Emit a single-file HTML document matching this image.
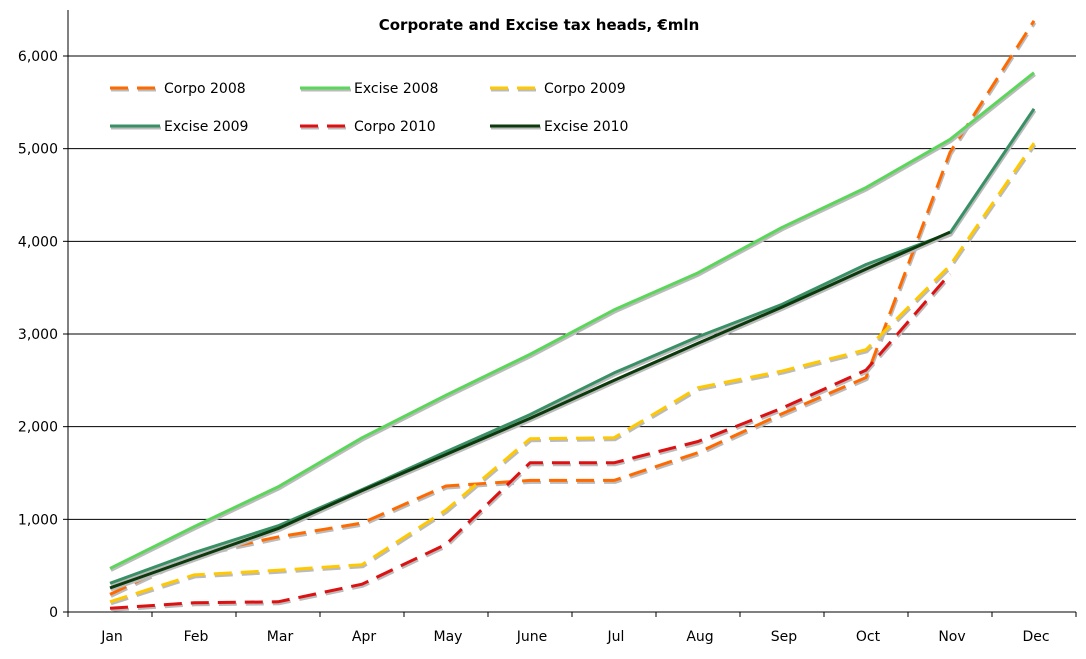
<!DOCTYPE html>
<html><head><meta charset="utf-8"><style>
body{margin:0;background:#fff;}
svg text{font-family:"DejaVu Sans","Liberation Sans",sans-serif;}
</style></head><body>
<svg id="chart" width="1086" height="654" xmlns="http://www.w3.org/2000/svg">
<text x="539" y="30" text-anchor="middle" font-size="15" font-weight="bold">Corporate and Excise tax heads, €mln</text>
<g id="grid"></g><g id="series"></g><g id="legend"></g>
</svg>
<script>
const months=["Jan","Feb","Mar","Apr","May","June","Jul","Aug","Sep","Oct","Nov","Dec"];
const yTicks=[0,1000,2000,3000,4000,5000,6000];
const corpo2008=[190,620,810,960,1360,1420,1420,1720,2140,2530,4960,6380];
const excise2008=[470,920,1350,1880,2340,2780,3260,3660,4150,4580,5100,5820];
const corpo2009=[110,400,450,510,1100,1870,1880,2420,2600,2830,3740,5060];
const excise2009=[310,640,930,1320,1730,2130,2580,2970,3320,3750,4090,5430];
const corpo2010=[40,100,110,300,730,1610,1610,1840,2200,2610,3650,null];
const excise2010=[260,580,900,1310,1700,2090,2500,2900,3290,3700,4100,null];
const seriesNames=["Corpo 2008","Excise 2008","Corpo 2009","Excise 2009","Corpo 2010","Excise 2010"];
const seriesData=[corpo2008,excise2008,corpo2009,excise2009,corpo2010,excise2010];
const seriesColors=["#ff6a00","#5bd65b","#ffc800","#3a9065","#dd1111","#0c3a0c"];
const seriesDashed=[true,false,true,false,true,false];
const NS="http://www.w3.org/2000/svg";
const L=68,R=1076,T=10,B=612,YMAX=6000;
const xs=i=>L+(R-L)/months.length*(i+0.5);
const ys=v=>B-(B-56)*v/YMAX;
function mk(tag,attrs,parent){const e=document.createElementNS(NS,tag);for(const k in attrs)e.setAttribute(k,attrs[k]);parent.appendChild(e);return e;}
const grid=document.getElementById('grid');
yTicks.forEach(v=>{
  if(v>0){const g=mk('line',{x1:L,x2:R,y1:ys(v),y2:ys(v),stroke:'#000','stroke-width':1},grid);
  
  }
  const t=mk('text',{x:58,y:ys(v)+5,'text-anchor':'end','font-size':14},grid);t.textContent=v.toLocaleString('en-US');
  
  
  mk('line',{x1:L-5,x2:L,y1:ys(v),y2:ys(v),stroke:'#000'},grid);
});
const ax=mk('line',{x1:L,x2:L,y1:T,y2:B,stroke:'#000'},grid);


const xa=mk('line',{x1:L,x2:R,y1:B,y2:B,stroke:'#000'},grid);


months.forEach((m,i)=>{
  const bx=L+(R-L)/months.length*i;
  mk('line',{x1:bx,x2:bx,y1:B,y2:B+5,stroke:'#000'},grid);
  const t=mk('text',{x:xs(i)+2,y:641,'text-anchor':'middle','font-size':14},grid);t.textContent=m;
  
  
});
mk('line',{x1:R,x2:R,y1:B,y2:B+5,stroke:'#000'},grid);
const sg=document.getElementById('series');
seriesData.forEach((d,si)=>{
  const pts=d.map((v,i)=>v==null?null:xs(i)+','+ys(v)).filter(p=>p).join(' ');
  const g=mk('g',{},sg);
  
  
  const a={points:pts,fill:'none','stroke-width':3,'stroke-linejoin':'round'};
  if(seriesDashed[si])a['stroke-dasharray']='18,9';
  mk('polyline',Object.assign({},a,{stroke:'#bbb',transform:'translate(1,2)'}),g);
  mk('polyline',Object.assign({},a,{stroke:seriesColors[si]}),g);
});
const lg=document.getElementById('legend');
seriesNames.forEach((n,i)=>{
  const col=i%3,row=Math.floor(i/3);
  const x=110+col*190,y=88+row*38;
  const g=mk('g',{},lg);
  
  
  const a={x1:x,x2:x+50,y1:y,y2:y,'stroke-width':3};
  if(seriesDashed[i])a['stroke-dasharray']='18,9';
  mk('line',Object.assign({},a,{stroke:'#bbb',transform:'translate(1,2)'}),g);
  mk('line',Object.assign({},a,{stroke:seriesColors[i]}),g);
  const t=mk('text',{x:x+54,y:y+5,'font-size':14},g);t.textContent=n;
});
</script>
</body></html>
